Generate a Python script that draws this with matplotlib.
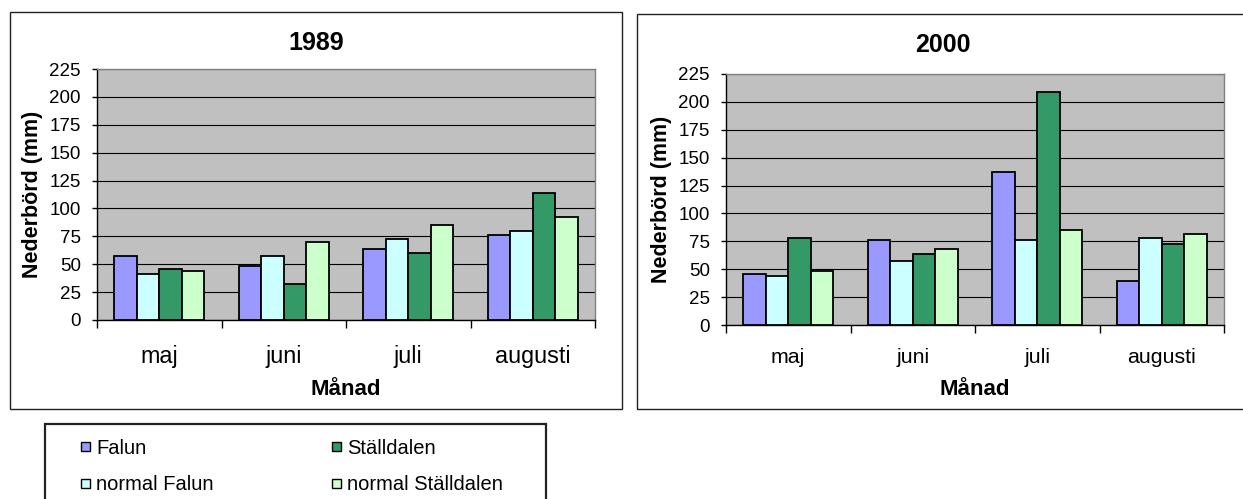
import matplotlib
matplotlib.use('Agg')
import matplotlib.pyplot as plt
from matplotlib.patches import Rectangle
import numpy as np

# ---------------- data ----------------
months = ['maj', 'juni', 'juli', 'augusti']
series_names = ['Falun', 'normal Falun', 'Ställdalen', 'normal Ställdalen']
series_colors = ['#9999FF', '#CCFFFF', '#339966', '#CCFFCC']

falun_1989 = [57, 48, 64, 76]
normal_falun_1989 = [41, 57, 73, 80]
stalldalen_1989 = [46, 32, 60, 114]
normal_stalldalen_1989 = [44, 70, 85, 92]

falun_2000 = [46, 76, 137, 39]
normal_falun_2000 = [44, 57, 76, 78]
stalldalen_2000 = [78, 64, 209, 73]
normal_stalldalen_2000 = [48, 68, 85, 82]

y_ticks = [0, 25, 50, 75, 100, 125, 150, 175, 200, 225]
ylabel = 'Nederbörd (mm)'
xlabel = 'Månad'

# ---------------- layout ----------------
W, H = 1243, 499
plt.rcParams['font.family'] = ['Liberation Sans', 'DejaVu Sans']
fig = plt.figure(figsize=(W / 100, H / 100), dpi=100)
fig.patch.set_facecolor('white')


def fig_rect(x0, y0, x1, y1):
    return [x0 / W, 1 - y1 / H, (x1 - x0) / W, (y1 - y0) / H]


def frame(x0, y0, x1, y1, lw=1.0, color='black'):
    fig.patches.append(Rectangle((x0 / W, 1 - y1 / H), (x1 - x0) / W, (y1 - y0) / H,
                                 transform=fig.transFigure, fill=False,
                                 edgecolor=color, linewidth=lw, zorder=0))


# chart frames
frame(10, 12, 622, 409, lw=1.0, color='#222222')
frame(637, 14, 1260, 409, lw=1.0, color='#222222')


def draw_chart(rect_px, frame_px, title, data, title_base, xt_size, xt_base, lbl_base):
    x0, y0, x1, y1 = rect_px
    ax = fig.add_axes(fig_rect(x0, y0, x1, y1))
    ax.set_facecolor('#C0C0C0')
    x = np.arange(len(months))
    bw = 0.18
    n = len(data)
    for i, (vals, col, name) in enumerate(zip(data, series_colors, series_names)):
        ax.bar(x + (i - (n - 1) / 2) * bw, vals, width=bw, color=col,
               edgecolor='black', linewidth=1.3, label=name, zorder=3)
    ax.set_xlim(-0.5, len(months) - 0.5)
    ax.set_ylim(0, 225)
    ax.set_yticks(y_ticks)
    ax.tick_params(axis='y', labelsize=13.5, length=3.6, width=1, pad=8,
                   colors='black')
    # boundary ticks (major) without labels, category labels on minor
    ax.set_xticks(np.arange(len(months) + 1) - 0.5)
    ax.set_xticklabels([])
    ax.set_xticks(x, minor=True)
    ax.set_xticklabels(months, minor=True)
    ax.tick_params(axis='x', which='major', length=5.5, width=1, direction='out')
    ax.tick_params(axis='x', which='minor', length=0, labelsize=xt_size,
                   pad=(xt_base - y1) * 0.72)
    for lbl in ax.get_xticklabels(minor=True):
        lbl.set_va('baseline')
    ax.yaxis.grid(True, color='black', linewidth=0.8)
    ax.set_axisbelow(True)
    for s in ['left', 'bottom']:
        ax.spines[s].set_color('black')
        ax.spines[s].set_linewidth(1.0)
    for s in ['top', 'right']:
        ax.spines[s].set_color('#808080')
        ax.spines[s].set_linewidth(1.0)
    # title centered on the chart frame
    fx0, fx1 = frame_px
    ax.set_title(title, fontsize=18, fontweight='bold',
                 x=((fx0 + fx1) / 2 - x0) / (x1 - x0),
                 y=(y1 - title_base) / (y1 - y0), va='baseline', pad=0)
    ax.set_xlabel(xlabel, fontsize=16, fontweight='bold', va='baseline')
    ax.xaxis.set_label_coords(0.5, (y1 - lbl_base) / (y1 - y0))
    ax.set_ylabel(ylabel, fontsize=15.5, fontweight='bold', va='baseline')
    ax.yaxis.set_label_coords(-59 / (x1 - x0), 0.5)
    return ax


ax1 = draw_chart((97, 69, 595, 320), (10, 622), '1989',
                 [falun_1989, normal_falun_1989, stalldalen_1989, normal_stalldalen_1989],
                 50, 16.8, 363, 395)
ax2 = draw_chart((726, 74, 1224, 325), (637, 1249), '2000',
                 [falun_2000, normal_falun_2000, stalldalen_2000, normal_stalldalen_2000],
                 52, 15.4, 363, 395)

# ---------------- legend ----------------
frame(45, 424, 546, 520, lw=1.6, color='#222222')
col_x = [81, 332]
row_y = [446, 483]
sq = 9
for i, (name, col) in enumerate(zip(series_names, series_colors)):
    c, r = i // 2, i % 2
    xs, yc = col_x[c], row_y[r]
    fig.patches.append(Rectangle((xs / W, 1 - (yc + sq / 2) / H), sq / W, sq / H,
                                 transform=fig.transFigure, facecolor=col,
                                 edgecolor='black', linewidth=1.0))
    fig.text((xs + sq + 6) / W, 1 - yc / H, name, fontsize=14.5,
             va='center_baseline', ha='left')

fig.savefig('out.png', dpi=100)
